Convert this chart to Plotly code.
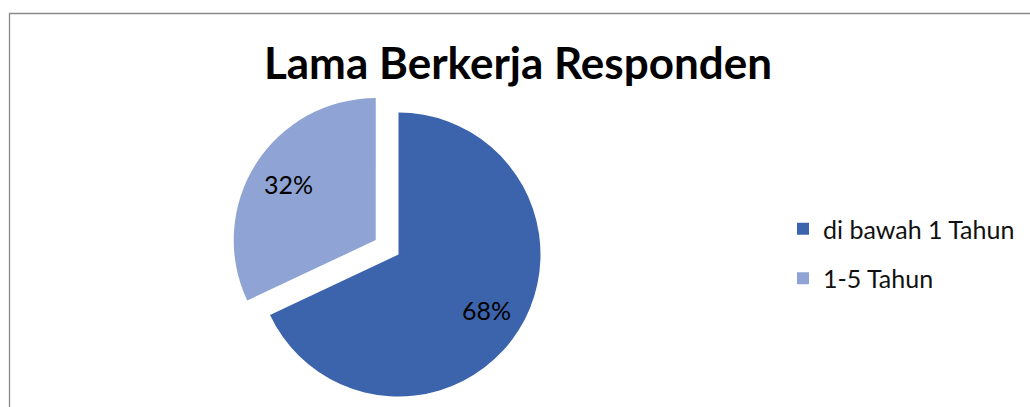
import math
import plotly.graph_objects as go

# Data
categories = ["di bawah 1 Tahun", "1-5 Tahun"]
values = [68, 32]
colors = ["#3C64AD", "#8FA4D4"]
title_text = "Lama Berkerja Responden"

W, H = 1030, 407
FONT = "Lato, Carlito, Calibri, sans-serif"

# Pie geometry (pixels)
cx, cy, r = 398.5, 254.5, 142.0
pull = 0.19
label_radius = 0.73
clear = "rgba(0,0,0,0)"


def domain_at(px, py, rad):
    return dict(x=[(px - rad) / W, (px + rad) / W],
                y=[1 - (py + rad) / H, 1 - (py - rad) / H])


# Angle (clockwise from 12 o'clock) at the middle of each slice
total = sum(values)
mids, start = [], 0.0
for v in values:
    mids.append(start + v / total * 180.0)
    start += v / total * 360.0

fig = go.Figure()

# Legend entries, one group per category
for i, (lab, val, col) in enumerate(zip(categories, values, colors)):
    fig.add_trace(go.Pie(
        labels=[lab], values=[val], marker=dict(colors=[col]),
        domain=domain_at(470, 330, 0.05), textinfo="none",
        hoverinfo="skip", sort=False, legendgroup=f"g{i}", showlegend=True,
    ))

annotations = []
# Each slice drawn as its own layer; the second one is exploded outward
for i in range(len(values)):
    slice_colors = [c if j == i else clear for j, c in enumerate(colors)]
    p = pull if i == 1 else 0.0
    ang = math.radians(mids[i])
    ux, uy = math.sin(ang), -math.cos(ang)
    pcx, pcy = cx + ux * p * r, cy + uy * p * r
    fig.add_trace(go.Pie(
        labels=categories, values=values, sort=False, direction="clockwise",
        rotation=0, marker=dict(colors=slice_colors, line=dict(width=0)),
        domain=domain_at(pcx, pcy, r), textinfo="none",
        hoverinfo="skip", showlegend=False,
    ))
    # percentage label inside the slice
    lx, ly = pcx + ux * label_radius * r, pcy + uy * label_radius * r
    annotations.append(dict(
        text=f"{round(values[i] / total * 100)}%",
        x=lx / W, y=1 - ly / H, xref="paper", yref="paper",
        xanchor="center", yanchor="middle", showarrow=False,
        font=dict(family=FONT, size=25, color="black"),
    ))

fig.update_layout(
    width=W, height=H,
    margin=dict(l=0, r=0, t=0, b=0),
    paper_bgcolor="white", plot_bgcolor="white",
    title=dict(text=f"<b>{title_text}</b>", x=518 / W, xanchor="center",
               y=1 - 64 / H, yanchor="middle",
               font=dict(family=FONT, size=44, color="black")),
    legend=dict(x=783 / W, xanchor="left", y=1 - 206 / H, yanchor="top",
                font=dict(family=FONT, size=25, color="#111111"),
                tracegroupgap=14, bgcolor="rgba(0,0,0,0)"),
    annotations=annotations,
    shapes=[dict(type="rect", xref="paper", yref="paper",
                 x0=9.5 / W, x1=1.02, y0=-0.02, y1=1 - 13.5 / H,
                 line=dict(color="#8a8a8a", width=1.3), layer="below")],
)

fig.write_html("out.html")
